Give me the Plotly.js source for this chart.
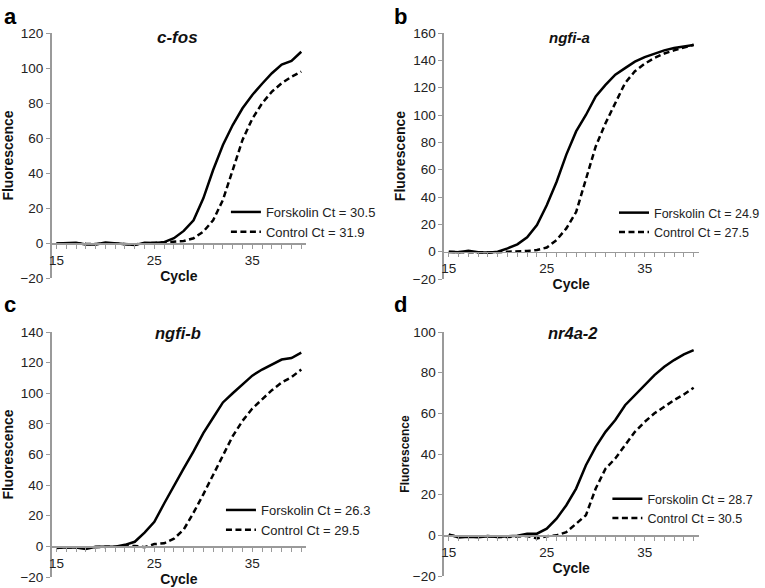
<!DOCTYPE html>
<html>
<head>
<meta charset="utf-8">
<script src="https://cdn.plot.ly/plotly-3.0.1.min.js"></script>
<style>
  html, body { margin: 0; padding: 0; background: #fff; overflow: hidden; }
  #graph { width: 765px; height: 588px; overflow: hidden; }
</style>
</head>
<body>
<div id="graph"></div>
<script>
// cycles 15..40
const cycles = [15,16,17,18,19,20,21,22,23,24,25,26,27,28,29,30,31,32,33,34,35,36,37,38,39,40];

// a: c-fos
const cfosForskolin = [-0.3,-0.2,0.2,-0.8,-0.8,0.3,-0.3,-0.5,-1.2,0.2,0,0.5,2.7,6.9,13,25.5,41.7,56,67.4,77,84.6,91,97,102,104,109.3];
const cfosControl   = [-0.5,-0.3,-0.2,-0.5,-0.6,-0.2,-0.4,-0.6,-0.8,-0.3,0,0.2,0.5,1.1,2.7,6.5,13,24.6,41.7,58.9,71,79.8,86.5,91.3,95,97.9];

// b: ngfi-a
const ngfiaForskolin = [0,-0.5,0.7,-0.5,-0.7,0,2.4,5.4,10.5,19.5,34,51,71,88,100,113.6,122,129.5,134.3,139,142.4,145,147.3,149,150.2,151.2];
const ngfiaControl   = [-0.3,-0.3,0,-0.4,-0.6,-0.3,-0.2,0,0.5,1.2,3,8.5,17,29,52.5,77,94,108.7,123.4,132,137.5,141.7,145,147.3,149.5,151.4];

// c: ngfi-b
const ngfibForskolin = [-1,-0.5,-0.7,-1.7,-0.3,-0.3,-0.3,1,3,9,16,28,40,51,62,74,84,94,100,106,111.5,115.5,118.5,122,123,126.5];
const ngfibControl   = [-0.8,-0.6,-0.5,-0.8,-0.4,-0.3,-0.3,0,0.3,-0.5,1.5,2,5,11,22,34,47,60,72,82,90,96,102,107,110.5,115.5];

// d: nr4a-2
const nr4a2Forskolin = [0.5,-1,-0.7,-1,-0.5,-0.8,-0.5,-0.2,0.8,0.8,3.3,8.2,14.8,23,34.5,43.5,50.9,56.7,64,69,73.9,78.8,82.9,86.2,89,91.1];
const nr4a2Control   = [0,-0.5,-0.5,-0.7,-0.3,-0.8,-0.8,-0.5,-0.3,-1.5,-0.5,0,1.6,5.7,9.9,23,32.8,37.8,44.3,50.9,55.8,60,63.2,66.5,69.3,72.6];

const panelLetters = ['a', 'b', 'c', 'd'];
const geneNames = ['c-fos', 'ngfi-a', 'ngfi-b', 'nr4a-2'];
const forskolinCt = ['30.5', '24.9', '26.3', '28.7'];
const controlCt = ['31.9', '27.5', '29.5', '30.5'];
const yMax = [120, 160, 140, 100];
const yMin = -20;

const forskolinSeries = [cfosForskolin, ngfiaForskolin, ngfibForskolin, nr4a2Forskolin];
const controlSeries = [cfosControl, ngfiaControl, ngfibControl, nr4a2Control];

// panel geometry (paper fractions)
const W = 765, H = 588;
const xDomains = [[52 / W, 309 / W], [448 / W, 705 / W], [52 / W, 309 / W], [448 / W, 705 / W]];
const yDomains = [[1 - 278 / H, 1 - 33 / H], [1 - 279 / H, 1 - 33 / H], [1 - 577 / H, 1 - 332 / H], [1 - 576 / H, 1 - 332 / H]];
const legendPos = [[228, 197], [620, 198], [223, 495], [613, 484]];
const titlePos = [[179, 37], [575, 37], [180, 333], [578, 333]];
const letterPos = [[2, 16], [396, 16], [2, 304], [396, 304]];
const titleSize = [17, 15, 16.5, 16.5];
// right-hand legends sit against the page edge, keep them narrow enough not to push the margin
const legendSize = [13, 12.5, 13, 12.5];

const axisGray = '#9a9a9a';
const textColor = '#222';
const font = 'Arial, "Liberation Sans", sans-serif';

const data = [];
const layout = {
  width: W,
  height: H,
  margin: { l: 0, r: 0, t: 0, b: 0 },
  paper_bgcolor: '#fff',
  plot_bgcolor: '#fff',
  font: { family: font, color: textColor },
  annotations: []
};

for (let i = 0; i < 4; i++) {
  const n = i === 0 ? '' : String(i + 1);
  const legendName = 'legend' + n;

  data.push({
    x: cycles,
    y: forskolinSeries[i],
    xaxis: 'x' + n,
    yaxis: 'y' + n,
    name: 'Forskolin Ct = ' + forskolinCt[i],
    legend: legendName,
    mode: 'lines',
    type: 'scatter',
    line: { color: '#000', width: 2.5 }
  });
  data.push({
    x: cycles,
    y: controlSeries[i],
    xaxis: 'x' + n,
    yaxis: 'y' + n,
    name: 'Control Ct = ' + controlCt[i],
    legend: legendName,
    mode: 'lines',
    type: 'scatter',
    line: { color: '#000', width: 2.5, dash: '6px,3.5px' }
  });

  const yd = yDomains[i];
  const zeroPos = yd[0] + (yd[1] - yd[0]) * (0 - yMin) / (yMax[i] - yMin);

  layout['xaxis' + n] = {
    domain: xDomains[i],
    range: [14.5, 40.5],
    anchor: 'free',
    position: zeroPos,
    tickmode: 'linear',
    tick0: 15,
    dtick: 10,
    ticks: 'outside',
    ticklen: 4,
    tickwidth: 1,
    tickcolor: axisGray,
    minor: { dtick: 1, tick0: 15, ticks: 'outside', ticklen: 4, tickwidth: 1, tickcolor: axisGray },
    showline: true,
    linecolor: axisGray,
    linewidth: 1.5,
    showgrid: false,
    zeroline: false,
    fixedrange: true,
    automargin: false,
    tickfont: { size: 13.5, color: textColor },
    title: { text: '<b>Cycle</b>', font: { size: 14, color: '#111' }, standoff: 4 }
  };
  layout['yaxis' + n] = {
    domain: yd,
    range: [yMin, yMax[i]],
    anchor: 'x' + n,
    tickmode: 'linear',
    tick0: yMin,
    dtick: 20,
    ticks: 'outside',
    ticklen: 4,
    tickwidth: 1,
    tickcolor: axisGray,
    showline: true,
    linecolor: axisGray,
    linewidth: 1.5,
    showgrid: false,
    zeroline: false,
    fixedrange: true,
    automargin: false,
    tickfont: { size: 13.5, color: textColor },
    title: { text: '<b>Fluorescence</b>', font: { size: i === 3 ? 12 : 14, color: '#111' } }
  };
  layout[legendName] = {
    x: legendPos[i][0] / W,
    y: 1 - legendPos[i][1] / H,
    xanchor: 'left',
    yanchor: 'top',
    bgcolor: 'rgba(0,0,0,0)',
    font: { size: legendSize[i], color: textColor },
    itemwidth: 30,
    tracegroupgap: 0
  };

  layout.annotations.push({
    text: '<b><i>' + geneNames[i] + '</i></b>',
    xref: 'paper', yref: 'paper',
    x: titlePos[i][0] / W, y: 1 - titlePos[i][1] / H,
    xanchor: 'center', yanchor: 'middle',
    showarrow: false,
    font: { size: titleSize[i], color: '#111' }
  });
  layout.annotations.push({
    text: '<b>' + panelLetters[i] + '</b>',
    xref: 'paper', yref: 'paper',
    x: letterPos[i][0] / W, y: 1 - letterPos[i][1] / H,
    xanchor: 'left', yanchor: 'middle',
    showarrow: false,
    font: { size: 22, color: '#000' }
  });
}

Plotly.newPlot('graph', data, layout, { staticPlot: true });
</script>
</body>
</html>
